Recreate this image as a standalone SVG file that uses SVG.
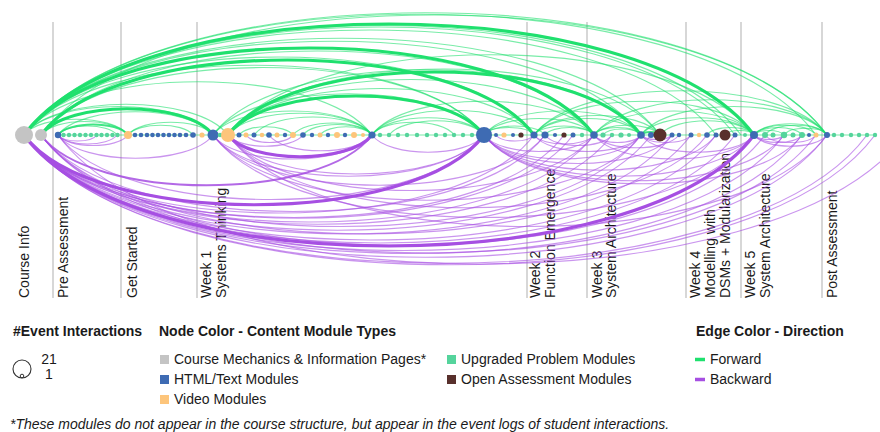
<svg xmlns="http://www.w3.org/2000/svg" width="880" height="432" viewBox="0 0 880 432">
<style>
text{font-family:"Liberation Sans",Arial,sans-serif;fill:#1a1a1a}
.lbl{font-size:14px}
.hd{font-size:14px;font-weight:bold}
.lg{font-size:14px}
.fn{font-size:14px;font-style:italic}
.sep{stroke:#cacaca;stroke-width:1.5}
.f{fill:none;stroke:#1fe06e;stroke-width:1.2;stroke-opacity:.6}
.b{fill:none;stroke:#a64fe2;stroke-width:1.2;stroke-opacity:.6}
.m{stroke-width:2;stroke-opacity:.85}
.k{stroke-width:3.2;stroke-opacity:1}
.g{fill:#c4c4c4}.h{fill:#3e6bb3}.v{fill:#fdc57b}.u{fill:#55d49c}.o{fill:#58302c}
</style>
<g id="separators">
<line class="sep" x1="53" y1="22" x2="53" y2="298"/>
<line class="sep" x1="121" y1="22" x2="121" y2="298"/>
<line class="sep" x1="197" y1="22" x2="197" y2="298"/>
<line class="sep" x1="527" y1="22" x2="527" y2="298"/>
<line class="sep" x1="587" y1="22" x2="587" y2="298"/>
<line class="sep" x1="686" y1="22" x2="686" y2="298"/>
<line class="sep" x1="741" y1="22" x2="741" y2="298"/>
<line class="sep" x1="822" y1="22" x2="822" y2="298"/>
</g>
<g id="section-labels" class="lbl">
<text transform="translate(29,298) rotate(-90)">Course Info</text>
<text transform="translate(68,298) rotate(-90)">Pre Assessment</text>
<text transform="translate(137,298) rotate(-90)">Get Started</text>
<text transform="translate(211,298) rotate(-90)">Week 1</text>
<text transform="translate(226,298) rotate(-90)">Systems Thinking</text>
<text transform="translate(540,298) rotate(-90)">Week 2</text>
<text transform="translate(555,298) rotate(-90)">Function Emergence</text>
<text transform="translate(602,298) rotate(-90)">Week 3</text>
<text transform="translate(616,298) rotate(-90)">System Architecture</text>
<text transform="translate(700,298) rotate(-90)">Week 4</text>
<text transform="translate(715,298) rotate(-90)">Modelling with</text>
<text transform="translate(730,298) rotate(-90)">DSMs + Modularization</text>
<text transform="translate(755,298) rotate(-90)">Week 5</text>
<text transform="translate(770,298) rotate(-90)">System Architecture</text>
<text transform="translate(837,298) rotate(-90)">Post Assessment</text>
</g>
<g id="connectors">
<path class="f" d="M58,135 H875"/>
<path class="f" d="M24,135 C144,-28 707,-28 827,135"/>
<path class="f" d="M24,135 C143,-26 697,-26 816,135"/>
<path class="f" d="M41,135 C159,-25 709,-25 827,135"/>
<path class="f" d="M24,135 C132,-11 633,-11 741,135"/>
<path class="f" d="M24,135 C131,-9 628,-9 735,135"/>
<path class="f" d="M24,135 C128,-5 612,-5 716,135"/>
<path class="f" d="M24,135 C119,6 565,6 660,135"/>
<path class="f" d="M24,135 C117,10 548,10 641,135"/>
<path class="f" d="M41,135 C124,23 511,23 594,135"/>
<path class="f" d="M24,135 C101,31 457,31 534,135"/>
<path class="f" d="M24,135 C93,42 415,42 484,135"/>
<path class="f" d="M41,135 C107,45 418,45 484,135"/>
<path class="f" d="M24,135 C76,64 320,64 372,135"/>
<path class="f" d="M24,135 C55,94 197,94 228,135"/>
<path class="f" d="M24,135 C52,97 185,97 213,135"/>
<path class="f" d="M41,135 C54,117 115,117 128,135"/>
<path class="f" d="M24,135 C40,114 112,114 128,135"/>
<path class="f" d="M58,135 C67,123 108,123 117,135"/>
<path class="f" d="M58,135 C81,104 190,104 213,135"/>
<path class="f" d="M128,135 C141,118 200,118 213,135"/>
<path class="f" d="M128,135 C138,122 183,122 193,135"/>
<path class="f" d="M213,135 C237,103 348,103 372,135"/>
<path class="f" d="M228,135 C250,106 350,106 372,135"/>
<path class="f" d="M213,135 C254,80 443,80 484,135"/>
<path class="f" d="M228,135 C274,73 488,73 534,135"/>
<path class="f" d="M228,135 C283,61 539,61 594,135"/>
<path class="f" d="M213,135 C277,48 577,48 641,135"/>
<path class="f" d="M228,135 C307,28 675,28 754,135"/>
<path class="f" d="M228,135 C293,47 595,47 660,135"/>
<path class="f" d="M254,135 C272,111 354,111 372,135"/>
<path class="f" d="M293,135 C305,119 360,119 372,135"/>
<path class="f" d="M239,135 C247,124 285,124 293,135"/>
<path class="f" d="M303,135 C313,121 362,121 372,135"/>
<path class="f" d="M320,135 C328,124 364,124 372,135"/>
<path class="f" d="M372,135 C389,112 467,112 484,135"/>
<path class="f" d="M372,135 C384,118 442,118 454,135"/>
<path class="f" d="M372,135 C396,102 510,102 534,135"/>
<path class="f" d="M372,135 C405,90 561,90 594,135"/>
<path class="f" d="M389,135 C403,116 470,116 484,135"/>
<path class="f" d="M484,135 C492,125 526,125 534,135"/>
<path class="f" d="M484,135 C501,113 577,113 594,135"/>
<path class="f" d="M484,135 C508,103 617,103 641,135"/>
<path class="f" d="M484,135 C493,123 536,123 545,135"/>
<path class="f" d="M534,135 C543,123 585,123 594,135"/>
<path class="f" d="M534,135 C550,113 625,113 641,135"/>
<path class="f" d="M534,135 C553,109 641,109 660,135"/>
<path class="f" d="M534,135 C567,90 721,90 754,135"/>
<path class="f" d="M534,135 C578,76 783,76 827,135"/>
<path class="f" d="M545,135 C552,125 587,125 594,135"/>
<path class="f" d="M594,135 C601,125 634,125 641,135"/>
<path class="f" d="M594,135 C604,122 650,122 660,135"/>
<path class="f" d="M594,135 C618,103 730,103 754,135"/>
<path class="f" d="M594,135 C629,88 792,88 827,135"/>
<path class="f" d="M603,135 C609,127 635,127 641,135"/>
<path class="f m" d="M641,135 C644,131 657,131 660,135"/>
<path class="f" d="M641,135 C658,112 737,112 754,135"/>
<path class="f" d="M641,135 C669,97 799,97 827,135"/>
<path class="f" d="M660,135 C674,116 740,116 754,135"/>
<path class="f" d="M707,135 C714,125 747,125 754,135"/>
<path class="f" d="M725,135 C729,129 750,129 754,135"/>
<path class="f" d="M754,135 C759,129 779,129 784,135"/>
<path class="f" d="M754,135 C761,125 795,125 802,135"/>
<path class="f" d="M754,135 C763,122 807,122 816,135"/>
<path class="f" d="M754,135 C765,120 816,120 827,135"/>
<path class="f" d="M765,135 C774,122 818,122 827,135"/>
<path class="f" d="M784,135 C790,126 821,126 827,135"/>
<path class="f m" d="M58,135 C68.5,121 117.5,121 128,135"/>
<path class="f k" d="M24,135 C134,-13 644,-13 754,135"/>
<path class="f k" d="M41,135 C67,100 187,100 213,135"/>
<path class="f k" d="M24,135 C110,19 508,19 594,135"/>
<path class="f k" d="M41,135 C115,35 460,35 534,135"/>
<path class="f k" d="M228,135 C290,51 579,51 641,135"/>
<path class="f k" d="M228,135 C266,83 446,83 484,135"/>
<path class="b" d="M24,135 C144,298 707,298 827,135"/>
<path class="b" d="M24,135 C152,308 747,308 875,135"/>
<path class="b" d="M24,135 C150,306 741,306 867,135"/>
<path class="b" d="M58,135 C185,307 778,307 905,135"/>
<path class="b" d="M41,135 C157,292 700,292 816,135"/>
<path class="b" d="M24,135 C141,293 685,293 802,135"/>
<path class="b" d="M24,135 C138,289 670,289 784,135"/>
<path class="b" d="M41,135 C150,282 656,282 765,135"/>
<path class="b" d="M24,135 C131,279 628,279 735,135"/>
<path class="b" d="M24,135 C128,275 612,275 716,135"/>
<path class="b" d="M41,135 C139,267 593,267 691,135"/>
<path class="b" d="M24,135 C121,267 575,267 672,135"/>
<path class="b" d="M24,135 C118,262 557,262 651,135"/>
<path class="b" d="M41,135 C131,257 551,257 641,135"/>
<path class="b" d="M24,135 C112,254 524,254 612,135"/>
<path class="b" d="M24,135 C110,251 508,251 594,135"/>
<path class="b" d="M24,135 C106,246 491,246 573,135"/>
<path class="b" d="M41,135 C117,237 469,237 545,135"/>
<path class="b" d="M24,135 C101,239 457,239 534,135"/>
<path class="b" d="M24,135 C105,245 483,245 564,135"/>
<path class="b" d="M58,135 C122,221 420,221 484,135"/>
<path class="b m" d="M41,135 C91,202 322,202 372,135"/>
<path class="b" d="M58,135 C81,166 190,166 213,135"/>
<path class="b" d="M58,135 C68,149 118,149 128,135"/>
<path class="b" d="M58,135 C67,147 108,147 117,135"/>
<path class="b" d="M58,135 C64,143 91,143 97,135"/>
<path class="b" d="M213,135 C254,190 443,190 484,135"/>
<path class="b" d="M228,135 C266,187 446,187 484,135"/>
<path class="b" d="M213,135 C237,167 348,167 372,135"/>
<path class="b" d="M228,135 C239,150 292,150 303,135"/>
<path class="b" d="M246,135 C253,145 286,145 293,135"/>
<path class="b" d="M372,135 C389,158 467,158 484,135"/>
<path class="b" d="M269,135 C284,156 357,156 372,135"/>
<path class="b" d="M213,135 C277,222 577,222 641,135"/>
<path class="b" d="M228,135 C283,209 539,209 594,135"/>
<path class="b" d="M213,135 C263,202 495,202 545,135"/>
<path class="b" d="M228,135 C300,232 635,232 707,135"/>
<path class="b" d="M213,135 C294,245 673,245 754,135"/>
<path class="b" d="M228,135 C318,257 737,257 827,135"/>
<path class="b" d="M484,135 C501,157 577,157 594,135"/>
<path class="b" d="M484,135 C508,167 617,167 641,135"/>
<path class="b" d="M484,135 C512,173 644,173 672,135"/>
<path class="b" d="M484,135 C519,182 681,182 716,135"/>
<path class="b" d="M484,135 C525,190 713,190 754,135"/>
<path class="b" d="M484,135 C529,196 739,196 784,135"/>
<path class="b" d="M484,135 C532,200 754,200 802,135"/>
<path class="b" d="M496,135 C502,143 528,143 534,135"/>
<path class="b" d="M534,135 C543,147 585,147 594,135"/>
<path class="b" d="M534,135 C550,157 625,157 641,135"/>
<path class="b" d="M545,135 C555,149 602,149 612,135"/>
<path class="b" d="M594,135 C601,145 634,145 641,135"/>
<path class="b" d="M594,135 C607,152 666,152 679,135"/>
<path class="b" d="M641,135 C646,141 667,141 672,135"/>
<path class="b" d="M641,135 C649,145 683,145 691,135"/>
<path class="b" d="M754,135 C759,141 779,141 784,135"/>
<path class="b" d="M754,135 C761,145 795,145 802,135"/>
<path class="b" d="M765,135 C773,145 808,145 816,135"/>
<path class="b" d="M754,135 C765,150 816,150 827,135"/>
<path class="b" d="M594,135 C618,167 730,167 754,135"/>
<path class="b" d="M641,135 C658,158 737,158 754,135"/>
<path class="b k" d="M24,135 C134,283 644,283 754,135"/>
<path class="b k" d="M24,135 C93,228 415,228 484,135"/>
<path class="b k" d="M228,135 C250,164 350,164 372,135"/>
</g>
<g id="nodes">
<g id="n1"><circle class="g" cx="24" cy="135" r="9"/></g>
<g id="n2"><circle class="g" cx="41" cy="135" r="6"/></g>
<g id="n3"><circle class="h" cx="58" cy="135" r="3.2"/></g>
<g id="n4"><circle class="u" cx="63.5" cy="135" r="2.2"/></g>
<g id="n5"><circle class="u" cx="69" cy="135" r="2.2"/></g>
<g id="n6"><circle class="u" cx="74.5" cy="135" r="2.2"/></g>
<g id="n7"><circle class="u" cx="80" cy="135" r="2.2"/></g>
<g id="n8"><circle class="u" cx="85.5" cy="135" r="2.2"/></g>
<g id="n9"><circle class="u" cx="91" cy="135" r="2.2"/></g>
<g id="n10"><circle class="u" cx="96.5" cy="135" r="2.2"/></g>
<g id="n11"><circle class="u" cx="101.5" cy="135" r="2.2"/></g>
<g id="n12"><circle class="u" cx="107" cy="135" r="2.2"/></g>
<g id="n13"><circle class="u" cx="112.5" cy="135" r="2.2"/></g>
<g id="n14"><circle class="u" cx="117.5" cy="135" r="2.2"/></g>
<g id="n15"><circle class="v" cx="128" cy="135" r="4"/></g>
<g id="n16"><circle class="h" cx="135" cy="135" r="2.3"/></g>
<g id="n17"><circle class="h" cx="141" cy="135" r="2.3"/></g>
<g id="n18"><circle class="h" cx="147" cy="135" r="2.3"/></g>
<g id="n19"><circle class="h" cx="152.5" cy="135" r="2.3"/></g>
<g id="n20"><circle class="h" cx="158" cy="135" r="2.3"/></g>
<g id="n21"><circle class="h" cx="163.5" cy="135" r="2.3"/></g>
<g id="n22"><circle class="h" cx="169" cy="135" r="2.3"/></g>
<g id="n23"><circle class="h" cx="174.5" cy="135" r="2.3"/></g>
<g id="n24"><circle class="h" cx="180" cy="135" r="2.3"/></g>
<g id="n25"><circle class="h" cx="186" cy="135" r="2.3"/></g>
<g id="n26"><circle class="h" cx="193" cy="135" r="2.8"/></g>
<g id="n27"><circle class="v" cx="202" cy="135" r="2.6"/></g>
<g id="n28"><circle class="h" cx="213" cy="135" r="5.5"/></g>
<g id="n29"><circle class="u" cx="220" cy="135" r="2.3"/></g>
<g id="n30"><circle class="v" cx="228" cy="135" r="7"/></g>
<g id="n31"><circle class="h" cx="239" cy="135" r="2.5"/></g>
<g id="n32"><circle class="v" cx="246" cy="135" r="2.5"/></g>
<g id="n33"><circle class="h" cx="254" cy="135" r="2.5"/></g>
<g id="n34"><circle class="v" cx="262" cy="135" r="2.3"/></g>
<g id="n35"><circle class="h" cx="269" cy="135" r="2.8"/></g>
<g id="n36"><circle class="v" cx="277" cy="135" r="2.5"/></g>
<g id="n37"><circle class="h" cx="285" cy="135" r="2.2"/></g>
<g id="n38"><circle class="v" cx="293" cy="135" r="3"/></g>
<g id="n39"><circle class="h" cx="303" cy="135" r="2.8"/></g>
<g id="n40"><circle class="h" cx="312" cy="135" r="2.2"/></g>
<g id="n41"><circle class="v" cx="320" cy="135" r="2.5"/></g>
<g id="n42"><circle class="h" cx="328" cy="135" r="2.2"/></g>
<g id="n43"><circle class="v" cx="337" cy="135" r="3"/></g>
<g id="n44"><circle class="h" cx="345" cy="135" r="2.2"/></g>
<g id="n45"><circle class="v" cx="354" cy="135" r="3"/></g>
<g id="n46"><circle class="v" cx="363" cy="135" r="2"/></g>
<g id="n47"><circle class="h" cx="372" cy="135" r="3.6"/></g>
<g id="n48"><circle class="u" cx="380" cy="135" r="2.2"/></g>
<g id="n49"><circle class="u" cx="389" cy="135" r="2.2"/></g>
<g id="n50"><circle class="u" cx="398" cy="135" r="2.2"/></g>
<g id="n51"><circle class="u" cx="407" cy="135" r="2.2"/></g>
<g id="n52"><circle class="u" cx="417" cy="135" r="2.2"/></g>
<g id="n53"><circle class="u" cx="427" cy="135" r="2.2"/></g>
<g id="n54"><circle class="u" cx="436" cy="135" r="2.2"/></g>
<g id="n55"><circle class="u" cx="445" cy="135" r="2.2"/></g>
<g id="n56"><circle class="u" cx="454" cy="135" r="2.2"/></g>
<g id="n57"><circle class="u" cx="463" cy="135" r="2.2"/></g>
<g id="n58"><circle class="u" cx="472" cy="135" r="2.2"/></g>
<g id="n59"><circle class="h" cx="484" cy="135" r="8"/></g>
<g id="n60"><circle class="h" cx="496" cy="135" r="2"/></g>
<g id="n61"><circle class="v" cx="504" cy="135" r="2.6"/></g>
<g id="n62"><circle class="h" cx="513" cy="135" r="2"/></g>
<g id="n63"><circle class="o" cx="521" cy="135" r="2.6"/></g>
<g id="n64"><circle class="h" cx="534" cy="135" r="3.6"/></g>
<g id="n65"><circle class="h" cx="545" cy="135" r="3.6"/></g>
<g id="n66"><circle class="h" cx="555" cy="135" r="2.1"/></g>
<g id="n67"><circle class="o" cx="564" cy="135" r="2.6"/></g>
<g id="n68"><circle class="h" cx="573" cy="135" r="2.5"/></g>
<g id="n69"><circle class="u" cx="582" cy="135" r="2.2"/></g>
<g id="n70"><circle class="h" cx="594" cy="135" r="3.8"/></g>
<g id="n71"><circle class="u" cx="603" cy="135" r="2.6"/></g>
<g id="n72"><circle class="u" cx="612" cy="135" r="2.2"/></g>
<g id="n73"><circle class="u" cx="621" cy="135" r="2.6"/></g>
<g id="n74"><circle class="u" cx="629" cy="135" r="2"/></g>
<g id="n75"><circle class="h" cx="641" cy="135" r="3.8"/></g>
<g id="n76"><circle class="h" cx="651" cy="135" r="3"/></g>
<g id="n77"><circle class="o" cx="660" cy="135" r="6.5"/></g>
<g id="n78"><circle class="h" cx="672" cy="135" r="2.5"/></g>
<g id="n79"><circle class="h" cx="679" cy="135" r="2.2"/></g>
<g id="n80"><circle class="h" cx="691" cy="135" r="2.5"/></g>
<g id="n81"><circle class="v" cx="699" cy="135" r="2.2"/></g>
<g id="n82"><circle class="h" cx="707" cy="135" r="2.8"/></g>
<g id="n83"><circle class="h" cx="716" cy="135" r="2.5"/></g>
<g id="n84"><circle class="o" cx="725" cy="135" r="5.5"/></g>
<g id="n85"><circle class="h" cx="735" cy="135" r="2.5"/></g>
<g id="n86"><circle class="u" cx="745" cy="135" r="2"/></g>
<g id="n87"><circle class="h" cx="754" cy="135" r="4"/></g>
<g id="n88"><circle class="u" cx="765" cy="135" r="3"/></g>
<g id="n89"><circle class="u" cx="773" cy="135" r="2.5"/></g>
<g id="n90"><circle class="u" cx="784" cy="135" r="3.2"/></g>
<g id="n91"><circle class="u" cx="793" cy="135" r="2.5"/></g>
<g id="n92"><circle class="u" cx="802" cy="135" r="3"/></g>
<g id="n93"><circle class="h" cx="809" cy="135" r="2"/></g>
<g id="n94"><circle class="v" cx="816" cy="135" r="2.5"/></g>
<g id="n95"><circle class="h" cx="827" cy="135" r="3"/></g>
<g id="n96"><circle class="u" cx="834" cy="135" r="2.2"/></g>
<g id="n97"><circle class="u" cx="842" cy="135" r="2.2"/></g>
<g id="n98"><circle class="u" cx="851" cy="135" r="2.2"/></g>
<g id="n99"><circle class="u" cx="859" cy="135" r="2.2"/></g>
<g id="n100"><circle class="u" cx="867" cy="135" r="2.2"/></g>
<g id="n101"><circle class="u" cx="875" cy="135" r="2.2"/></g>
</g>
<g id="legend">
<text class="hd" x="13" y="336">#Event Interactions</text>
<circle cx="22" cy="369" r="9" fill="none" stroke="#333" stroke-width="1.1"/>
<circle cx="22" cy="376" r="1.8" fill="none" stroke="#333" stroke-width="1"/>
<text class="lg" x="49" y="364" text-anchor="middle">21</text>
<text class="lg" x="49" y="379" text-anchor="middle">1</text>
<text class="hd" x="159" y="336">Node Color - Content Module Types</text>
<rect class="g" x="160" y="355" width="9" height="9"/>
<text class="lg" x="174" y="364">Course Mechanics &amp; Information Pages*</text>
<rect class="h" x="160" y="375" width="9" height="9"/>
<text class="lg" x="174" y="384">HTML/Text Modules</text>
<rect class="v" x="160" y="395" width="9" height="9"/>
<text class="lg" x="174" y="404">Video Modules</text>
<rect class="u" x="447" y="355" width="9" height="9"/>
<text class="lg" x="461" y="364">Upgraded Problem Modules</text>
<rect class="o" x="447" y="375" width="9" height="9"/>
<text class="lg" x="461" y="384">Open Assessment Modules</text>
<text class="hd" x="696" y="336">Edge Color - Direction</text>
<line x1="695" y1="359.5" x2="705" y2="359.5" stroke="#1fe06e" stroke-width="3.5"/>
<text class="lg" x="710" y="364">Forward</text>
<line x1="695" y1="379.5" x2="705" y2="379.5" stroke="#a64fe2" stroke-width="3.5"/>
<text class="lg" x="710" y="384">Backward</text>
<text class="fn" x="10" y="429">*These modules do not appear in the course structure, but appear in the event logs of student interactions.</text>
</g>
</svg>
